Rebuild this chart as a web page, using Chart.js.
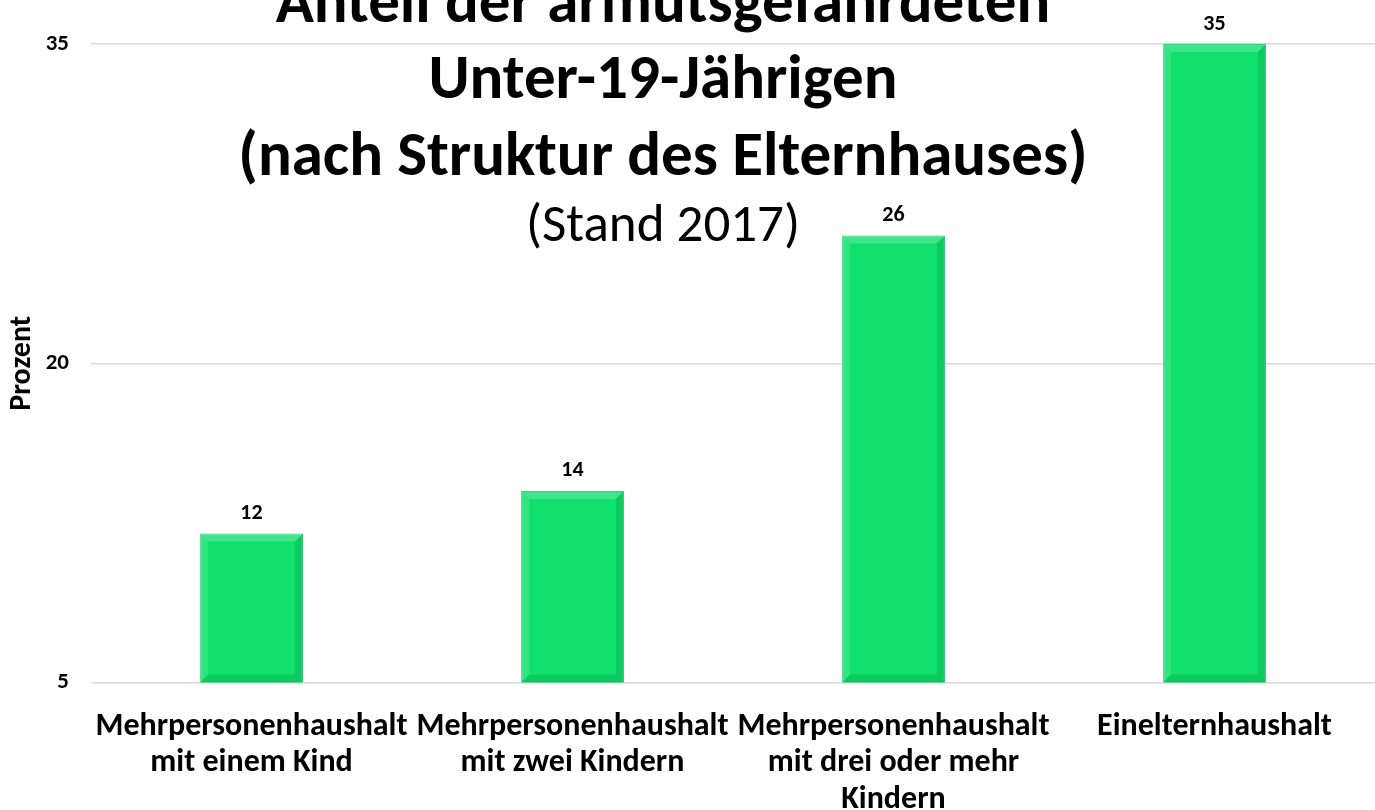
<!DOCTYPE html>
<html>
<head>
<meta charset="utf-8">
<script src="https://cdn.jsdelivr.net/npm/chart.js@4.4.0/dist/chart.umd.min.js"></script>
<style>
  html, body { margin: 0; padding: 0; background: #fff; }
  #wrap { width: 1375px; height: 810px; }
</style>
</head>
<body>
<div id="wrap"><canvas id="myChart" width="1375" height="810"></canvas></div>
<script>
// Data
const categories = [
    ['Mehrpersonenhaushalt', 'mit einem Kind'],
    ['Mehrpersonenhaushalt', 'mit zwei Kindern'],
    ['Mehrpersonenhaushalt', 'mit drei oder mehr', 'Kindern'],
    ['Einelternhaushalt']
];
const values = [12, 14, 26, 35];
const yTicks = [5, 20, 35];
const titleLines = ['Anteil der armutsgefährdeten', 'Unter-19-Jährigen', '(nach Struktur des Elternhauses)'];
const subtitle = '(Stand 2017)';
const yTitle = 'Prozent';

const FONT = 'Carlito, Lato, "Open Sans", sans-serif';
const green = '#10E06C';

// Draws the big title over the plot, like in the original slide
const overlayTitle = {
    id: 'overlayTitle',
    afterDraw(chart) {
        const ctx = chart.ctx;
        ctx.save();
        ctx.fillStyle = '#000';
        ctx.textAlign = 'center';
        ctx.textBaseline = 'alphabetic';
        const cx = 663;
        const baselines = [22, 98, 175];
        ctx.font = 'bold 63px ' + FONT;
        titleLines.forEach((t, i) => ctx.fillText(t, cx, baselines[i]));
        ctx.font = '53px ' + FONT;
        ctx.fillText(subtitle, cx, 241);
        ctx.restore();
    }
};

// bevel look on the bars + value labels
const barDeco = {
    id: 'barDeco',
    afterDatasetsDraw(chart) {
        const ctx = chart.ctx;
        const meta = chart.getDatasetMeta(0);
        ctx.save();
        meta.data.forEach((bar, i) => {
            const l = bar.x - bar.width / 2, r = bar.x + bar.width / 2;
            const t = bar.y, b = Math.min(bar.base, chart.chartArea.bottom);
            const e = 8;
            // left edge lighter
            ctx.fillStyle = 'rgba(255,255,255,0.14)';
            ctx.beginPath();
            ctx.moveTo(l, t); ctx.lineTo(l + e, t + e); ctx.lineTo(l + e, b - e); ctx.lineTo(l, b); ctx.closePath(); ctx.fill();
            // top edge lighter
            ctx.fillStyle = 'rgba(255,255,255,0.2)';
            ctx.beginPath();
            ctx.moveTo(l, t); ctx.lineTo(r, t); ctx.lineTo(r - e, t + e); ctx.lineTo(l + e, t + e); ctx.closePath(); ctx.fill();
            // right and bottom edges darker
            ctx.fillStyle = 'rgba(0,90,40,0.16)';
            ctx.beginPath();
            ctx.moveTo(r, t); ctx.lineTo(r, b); ctx.lineTo(r - e, b - e); ctx.lineTo(r - e, t + e); ctx.closePath(); ctx.fill();
            ctx.beginPath();
            ctx.moveTo(l, b); ctx.lineTo(r, b); ctx.lineTo(r - e, b - e); ctx.lineTo(l + e, b - e); ctx.closePath(); ctx.fill();

            ctx.fillStyle = '#000';
            ctx.font = 'bold 22px ' + FONT;
            ctx.textAlign = 'center';
            ctx.textBaseline = 'middle';
            ctx.fillText(values[i], bar.x, t - 20);
        });
        ctx.restore();
    }
};

let ctx = document.getElementById('myChart').getContext('2d');
let myChart = new Chart(ctx, {
    type: 'bar',
    data: {
        labels: categories,
        datasets: [{
            data: values,
            backgroundColor: green,
            borderColor: '#0BC45C',
            borderWidth: 1,
            categoryPercentage: 1.0,
            barPercentage: 0.32
        }]
    },
    options: {
        responsive: false,
        animation: false,
        layout: { padding: { top: 44, right: 0, left: 4, bottom: -26 } },
        plugins: {
            legend: { display: false },
            tooltip: { enabled: false },
            title: { display: false }
        },
        scales: {
            x: {
                grid: { display: false },
                border: { display: false },
                ticks: {
                    color: '#000',
                    font: { family: FONT, size: 32, weight: 'bold', lineHeight: 1.14 },
                    maxRotation: 0,
                    autoSkip: false,
                    padding: 18
                }
            },
            y: {
                min: 5,
                max: 35,
                afterBuildTicks: (axis) => { axis.ticks = yTicks.map(v => ({ value: v })); },
                afterFit: (axis) => { axis.width = 87; },
                grid: { color: '#d9d9d9', lineWidth: 1.5, drawTicks: false },
                border: { display: false },
                ticks: {
                    color: '#000',
                    font: { family: FONT, size: 23, weight: 'bold' },
                    padding: 22
                },
                title: {
                    display: true,
                    text: yTitle,
                    color: '#000',
                    font: { family: FONT, size: 30, weight: 'bold' },
                    padding: 0
                }
            }
        }
    },
    plugins: [overlayTitle, barDeco]
});
</script>
</body>
</html>
